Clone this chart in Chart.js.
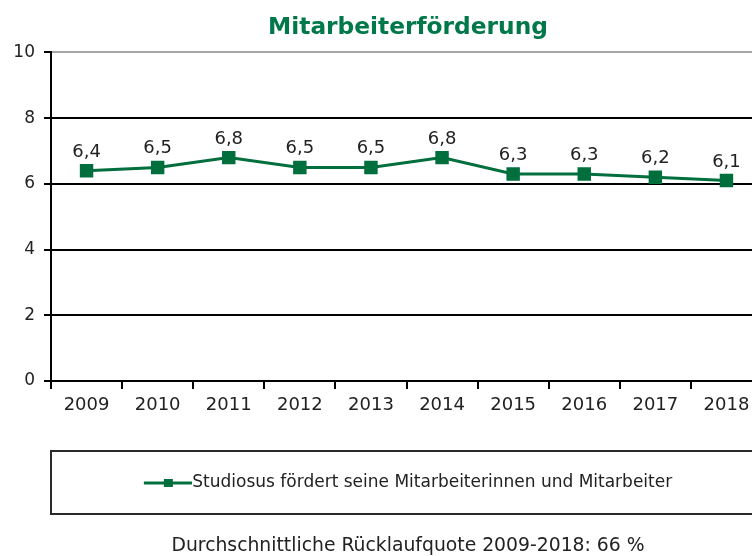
<!DOCTYPE html>
<html>
<head>
<meta charset="utf-8">
<script src="https://cdn.jsdelivr.net/npm/chart.js@4.4.1/dist/chart.umd.min.js"></script>
<style>
  html, body { margin: 0; padding: 0; background: #fff; overflow: hidden; }
  #wrap { width: 752px; height: 556px; overflow: hidden; }
</style>
</head>
<body>
<div id="wrap"><canvas id="chart" width="816" height="556"></canvas></div>
<script>
'use strict';
var years = ['2009', '2010', '2011', '2012', '2013', '2014', '2015', '2016', '2017', '2018'];
var values = [6.4, 6.5, 6.8, 6.5, 6.5, 6.8, 6.3, 6.3, 6.2, 6.1];
var yTicks = [0, 2, 4, 6, 8, 10];
var seriesLabel = 'Studiosus fördert seine Mitarbeiterinnen und Mitarbeiter';
var titleText = 'Mitarbeiterförderung';
var footerText = 'Durchschnittliche Rücklaufquote 2009-2018: 66 %';

var GREEN = '#006e3d';
var TITLE_GREEN = '#00784a';
var TEXT = '#222222';
var FONT = '"DejaVu Sans", Verdana, sans-serif';

Chart.defaults.font.family = FONT;
Chart.defaults.color = TEXT;

function fmt(v) { return v.toFixed(1).replace('.', ','); }

// line with square marker, like the legend swatch in the original
function legendMarker() {
  var c = document.createElement('canvas');
  c.width = 56; c.height = 12;
  var g = c.getContext('2d');
  g.strokeStyle = GREEN; g.lineWidth = 3;
  g.beginPath(); g.moveTo(8, 6); g.lineTo(56, 6); g.stroke();
  g.fillStyle = GREEN;
  g.fillRect(28, 2, 9, 8);
  return c;
}

var valueLabels = {
  id: 'valueLabels',
  afterDatasetsDraw: function(chart) {
    var ctx = chart.ctx;
    var meta = chart.getDatasetMeta(0);
    ctx.save();
    ctx.font = '18px ' + FONT;
    ctx.fillStyle = TEXT;
    ctx.textAlign = 'center';
    ctx.textBaseline = 'alphabetic';
    meta.data.forEach(function(pt, i) {
      ctx.fillText(fmt(values[i]), pt.x, pt.y - 14);
    });
    ctx.restore();
  }
};

var legendFrame = {
  id: 'legendFrame',
  afterDraw: function(chart) {
    var box = chart.legend && chart.legend.legendHitBoxes[0];
    if (!box) return;
    var ctx = chart.ctx;
    var a = chart.chartArea;
    var cy = box.top + box.height / 2;
    ctx.save();
    ctx.strokeStyle = '#2a2a2a';
    ctx.lineWidth = 2;
    ctx.strokeRect(a.left, Math.round(cy - 32), a.right - a.left + 10, 63);
    ctx.restore();
  }
};

new Chart(document.getElementById('chart'), {
  type: 'line',
  data: {
    labels: years,
    datasets: [{
      label: seriesLabel,
      data: values,
      borderColor: GREEN,
      backgroundColor: GREEN,
      borderWidth: 3,
      tension: 0,
      pointStyle: 'rect',
      pointRadius: 9.5,
      pointBackgroundColor: GREEN,
      pointBorderWidth: 0
    }]
  },
  options: {
    responsive: false,
    animation: false,
    layout: { padding: 0 },
    plugins: {
      title: {
        display: true, text: titleText, color: TITLE_GREEN,
        font: { size: 23.3, weight: 'bold' }, padding: { top: 14, bottom: 10.5 }
      },
      legend: {
        display: true, position: 'bottom',
        labels: {
          usePointStyle: true, pointStyle: legendMarker(), pointStyleWidth: 40,
          font: { size: 17 }, color: TEXT, padding: 24
        }
      },
      subtitle: {
        display: true, position: 'bottom', text: footerText, color: TEXT,
        font: { size: 18.8, lineHeight: 1 }, padding: { top: 35.7, bottom: 0 }
      },
      tooltip: { enabled: false }
    },
    scales: {
      x: {
        offset: true,
        grid: { offset: true, drawOnChartArea: false, color: '#000', lineWidth: 2, tickLength: 8 },
        border: { color: '#000', width: 2 },
        ticks: { color: TEXT, font: { size: 18 }, padding: 6, maxRotation: 0, autoSkip: false },
        afterFit: function(s) { s.height = 69.5; }
      },
      y: {
        min: yTicks[0], max: yTicks[yTicks.length - 1],
        afterBuildTicks: function(s) { s.ticks = yTicks.map(function(v) { return { value: v }; }); },
        grid: {
          color: function(c) { return c.tick && c.tick.value === 10 ? '#a6a6a6' : '#000'; },
          lineWidth: 2, tickLength: 7, tickColor: '#000'
        },
        border: { color: '#000', width: 2 },
        ticks: { color: TEXT, font: { size: 17 }, padding: 9 },
        afterFit: function(s) { s.width = 51; }
      },
      yRight: {
        type: 'linear', position: 'right', display: true,
        grid: { display: false }, ticks: { display: false }, border: { display: false },
        afterFit: function(s) { s.width = 54; }
      }
    }
  },
  plugins: [valueLabels, legendFrame]
});
</script>
</body>
</html>
